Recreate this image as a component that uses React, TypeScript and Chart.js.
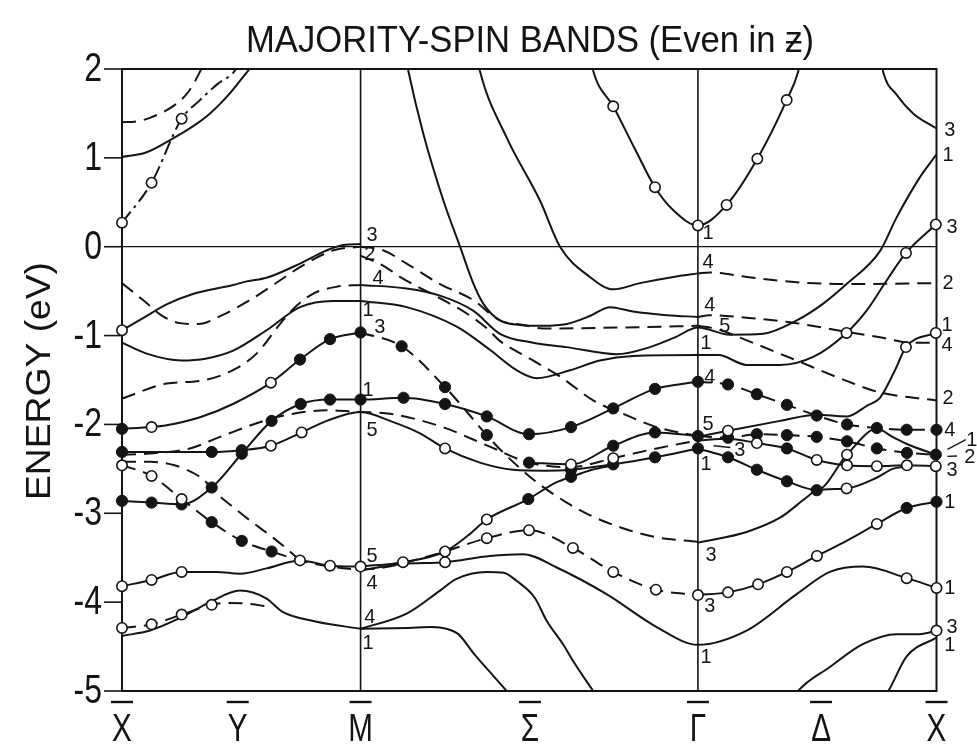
import React, { useEffect, useRef } from "react";
import { Chart, registerables } from "chart.js";
Chart.register(...registerables);

// ---------- axis data ----------
const symLabels = ["X", "Y", "M", "Σ", "Γ", "Δ", "X"];
const symK = [0, 4.85, 10, 17.1, 24.14, 29.3, 34.14];
const symLines = [10, 24.14];
const energyTicks = [2, 1, 0, -1, -2, -3, -4, -5];
const kMin = 0;
const kMax = 34.14;
const eMin = -5;
const eMax = 2;

// ---------- bands: [k, E, marker] marker 1 = open circle, 2 = filled circle ----------
// X - M segment
const S0 = [[0, 1.01], [1.0, 1.06], [2.14, 1.22], [3.0, 1.36], [3.69, 1.5], [4.5, 1.72], [5.28, 1.98], [5.5, 2.05]];
const D0 = [[0, 1.4], [0.6, 1.41], [1.17, 1.45], [2.29, 1.61], [2.8, 1.75], [3.27, 1.97], [3.4, 2.05]];
const B1 = [[0, 0.27, 1], [1.24, 0.72, 1], [2.5, 1.44, 1], [3.27, 1.65], [4.0, 1.83], [4.67, 1.96], [4.85, 2.03]];
const S1 = [[0, -0.94, 1], [0.9, -0.8], [1.87, -0.65], [3.0, -0.53], [4.66, -0.43], [5.23, -0.39], [6.06, -0.35], [7.46, -0.19], [8.5, -0.05], [9.28, 0.02], [10, 0.03]];
const D1 = [[0, -0.41], [0.88, -0.6], [1.7, -0.78], [2.43, -0.86], [3.2, -0.87], [4.2, -0.77], [5.3, -0.61], [6.4, -0.42], [7.46, -0.23], [8.86, -0.04], [10, 0.0]];
const D2 = [[0, -1.71], [1.87, -1.54], [3.27, -1.51], [4.65, -1.39], [5.65, -1.2], [6.62, -0.87], [7.18, -0.7], [8.0, -0.53], [9.0, -0.45], [10, -0.43]];
const S2 = [[0, -1.08], [1.0, -1.2], [2.5, -1.28], [3.5, -1.26], [4.66, -1.17], [6.06, -0.94], [7.46, -0.68], [8.84, -0.61], [10, -0.61]];
const S3 = [[0, -2.05, 2], [1.24, -2.03, 1], [1.87, -2.01], [3.27, -1.92], [4.65, -1.77], [6.24, -1.53, 1], [7.46, -1.27, 2], [8.72, -1.04, 2], [10, -0.965, 2]];
const F1 = [[0, -2.86, 2], [1.24, -2.88, 2], [2.5, -2.9, 2], [3.76, -2.71, 2], [5.02, -2.33, 2], [6.27, -1.96, 2], [7.49, -1.77, 2], [8.72, -1.72, 2], [10, -1.72, 2], [11.8, -1.7, 2], [13.54, -1.77, 2], [15.29, -1.91, 2], [17.06, -2.11, 2], [18.82, -2.03, 2], [20.59, -1.82, 2], [22.34, -1.6, 2], [24.14, -1.52, 2]];
const S4 = [[0, -2.31, 2], [2.0, -2.31], [3.76, -2.31, 2], [5.02, -2.29, 2], [6.24, -2.24, 1], [7.53, -2.09, 1], [8.58, -1.96], [10, -1.86], [11.23, -1.96], [12.49, -2.1], [13.54, -2.27, 1], [15.0, -2.43], [16.39, -2.51], [17.73, -2.52], [18.82, -2.51, 2], [20.59, -2.45, 2], [22.34, -2.37, 2], [24.14, -2.27, 2]];
const D3 = [[0, -2.34], [1.0, -2.33], [2.85, -2.27], [4.11, -2.14], [6.06, -1.95], [7.18, -1.88], [8.58, -1.84], [10, -1.86], [11.23, -1.88], [13.33, -2.02], [15.42, -2.25], [17.06, -2.43], [18.82, -2.48], [20.59, -2.38, 1], [22.41, -2.27], [24.14, -2.18]];
const DOpen = [[0, -2.46, 1], [1.24, -2.58, 1], [2.5, -2.84, 1], [3.76, -3.1, 2], [5.02, -3.31, 2], [6.27, -3.43, 2], [7.46, -3.53], [8.72, -3.6], [10, -3.64]];
const D4 = [[0, -2.42], [1.2, -2.42], [2.2, -2.46], [2.71, -2.51], [3.41, -2.62], [3.97, -2.78], [4.66, -2.93], [5.36, -3.08], [6.06, -3.22], [6.73, -3.36], [7.46, -3.53]];
const S5 = [[0, -3.82, 1], [1.24, -3.75, 1], [2.5, -3.66, 1], [3.97, -3.66], [4.95, -3.68], [6.06, -3.62], [7.46, -3.53, 1], [8.72, -3.59, 1], [10, -3.6, 1]];
const S7 = [[0, -4.38], [1.17, -4.32], [2.5, -4.17], [3.69, -4.0], [4.95, -3.87], [6.06, -3.96], [6.73, -4.11], [8.16, -4.22], [10, -4.3]];
const D5 = [[0, -4.29, 1], [1.24, -4.25, 1], [2.5, -4.14, 1], [3.76, -4.03, 1], [4.39, -4.01], [5.36, -4.02], [6.3, -4.06]];
// M - Gamma segment
const R1 = [[10, -3.6], [11.78, -3.55, 1], [13.54, -3.43], [14.5, -3.25], [15.29, -3.07, 1], [17.03, -2.84, 2], [18.22, -2.65], [18.82, -2.59, 2], [19.7, -2.51], [20.59, -2.46]];
const DMOpen = [[10, -3.64], [11.2, -3.6], [12.5, -3.51], [13.54, -3.43, 1], [15.29, -3.28, 1], [17.06, -3.19, 1], [18.9, -3.39, 1], [20.59, -3.66, 1], [22.38, -3.86, 1], [24.14, -3.92, 1]];
const S6 = [[10, -3.64], [11.78, -3.57], [13.54, -3.55, 1], [15.42, -3.48], [16.82, -3.46], [18.22, -3.61], [20.31, -3.91], [22.41, -4.28], [24.14, -4.48], [26.18, -4.32], [28.28, -3.91], [29.67, -3.66], [31.07, -3.6], [32.89, -3.73, 1], [34.14, -3.84, 1]];
const S8 = [[10, -4.3], [12, -4.29], [13.0, -4.28], [13.6, -4.3], [14.1, -4.36], [14.72, -4.57], [15.4, -4.78], [16.12, -5.0], [16.3, -5.06]];
const S9 = [[10, -4.3], [11.93, -4.13], [13.33, -3.87], [14.0, -3.74], [15.29, -3.66], [16.0, -3.67], [16.54, -3.76], [17.3, -3.95], [17.8, -4.21], [18.5, -4.48], [18.9, -4.66], [19.75, -5.0], [19.9, -5.06]];
const T1 = [[11.95, 2.05], [12.0, 1.98], [12.63, 1.27], [13.47, 0.52], [14.17, 0.0], [14.72, -0.41], [15.14, -0.64], [15.84, -0.83], [16.68, -0.88], [17.64, -0.89], [18.64, -0.87], [19.61, -0.78], [20.45, -0.68], [21.42, -0.73], [22.83, -0.77], [24.14, -0.79]];
const U = [[14.95, 2.05], [15.0, 1.98], [16.12, 1.23], [17.52, 0.52], [18.36, 0.0], [19.61, -0.34], [20.59, -0.48], [21.71, -0.41], [23.11, -0.34], [24.14, -0.3]];
const P = [[19.7, 2.05], [19.75, 1.98], [20.59, 1.58, 1], [21.5, 1.1], [22.34, 0.67, 1], [23.11, 0.41], [24.14, 0.24, 1], [25.34, 0.47, 1], [26.63, 0.99, 1], [27.86, 1.65, 1], [28.34, 1.97], [28.4, 2.05]];
const A = [[10, 0.0], [10.94, -0.04], [11.93, -0.19], [13.33, -0.42], [14.72, -0.6], [15.84, -0.83], [16.82, -0.88], [17.64, -0.92], [20.87, -0.91], [24.14, -0.89]];
const T5 = [[10, -0.1], [11.0, -0.22], [11.65, -0.34], [13.33, -0.58], [14.5, -0.76], [15.3, -0.92], [15.84, -1.06], [16.96, -1.24], [18.36, -1.46], [19.75, -1.73], [21.0, -1.88], [22.41, -2.03], [24.14, -2.13]];
const T3 = [[10, -0.43], [11.93, -0.47], [13.33, -0.55], [14.72, -0.72], [15.84, -0.98], [17.23, -1.08], [18.64, -1.13], [20.73, -1.21], [22.13, -1.13], [23.18, -1.02], [24.14, -0.91], [25.48, -0.99], [26.87, -0.98], [28.28, -0.83], [29.39, -0.64], [30.37, -0.42], [31.77, -0.05], [32.47, 0.33], [33.44, 0.78], [34.14, 1.04]];
const T4 = [[10, -0.61], [11.93, -0.68], [14.03, -0.9], [15.42, -1.16], [16.54, -1.39], [17.38, -1.48], [18.78, -1.39], [20.03, -1.28], [21.42, -1.23], [24.14, -1.22], [25.0, -1.22], [26.18, -1.33], [27.58, -1.33], [28.97, -1.24], [30.37, -0.97, 1], [31.21, -0.72], [32.05, -0.38], [32.86, -0.07, 1], [34.11, 0.25, 1]];
const DM3 = [[10, -0.965], [11.72, -1.12, 2], [13.54, -1.58, 2], [15.29, -2.12, 2], [15.84, -2.28], [17.24, -2.62], [18.64, -2.88], [19.6, -3.02], [20.9, -3.16], [22.4, -3.27], [24.14, -3.32]];
const C2 = [[17.06, -2.43, 2], [18.82, -2.45, 1], [20.59, -2.24, 2], [22.34, -2.09, 2], [24.14, -2.13, 2]];
// Gamma - X segment
const T1b = [[24.14, -0.79], [24.64, -0.77], [26.18, -0.8], [28.0, -0.85], [30.09, -0.945], [31.77, -1.02], [33.16, -1.08], [34.14, -1.08]];
const Ub = [[24.14, -0.3], [24.64, -0.29], [26.18, -0.34], [28.28, -0.4], [30.37, -0.42], [34.14, -0.41]];
const T2b = [[24.14, -0.89], [25.0, -0.93], [25.78, -1.01], [28.0, -1.25], [30.37, -1.51], [31.77, -1.64], [34.14, -1.73]];
const V = [[31.85, 2.05], [31.91, 1.96], [32.47, 1.71], [33.16, 1.5], [34.14, 1.33]];
const F1b = [[24.14, -1.52], [25.4, -1.55, 2], [26.61, -1.66, 2], [27.87, -1.78, 2], [29.12, -1.9, 2], [30.39, -2.0, 2], [31.64, -2.04, 2], [32.89, -2.06, 2], [34.14, -2.06, 2]];
const Bg = [[24.14, -2.14], [25.4, -2.07, 1], [27.58, -1.96], [29.12, -1.89], [30.39, -1.91], [31.22, -1.79], [31.77, -1.7], [32.4, -1.39], [32.86, -1.13, 1], [34.11, -0.97, 1]];
const Cg = [[24.14, -2.13], [25.4, -2.15, 2], [26.61, -2.11, 2], [27.87, -2.12, 2], [29.12, -2.14, 2], [30.39, -2.19, 2], [31.64, -2.27, 2], [32.9, -2.32, 2], [34.11, -2.34, 2]];
const Dg = [[24.14, -2.27], [25.4, -2.37, 2], [26.61, -2.51, 2], [27.87, -2.64, 2], [29.12, -2.74, 2], [30.39, -2.34, 1], [31.64, -2.05], [32.3, -2.14], [32.9, -2.22], [34.11, -2.34]];
const Eg = [[24.14, -2.18], [25.4, -2.16], [26.61, -2.21, 1], [27.87, -2.27, 2], [29.12, -2.4, 1], [30.39, -2.46, 1], [31.64, -2.47, 1], [32.9, -2.46, 1], [34.11, -2.47, 1]];
const Gg = [[24.14, -3.33], [26.18, -3.21], [27.58, -3.05], [28.7, -2.82], [29.12, -2.74], [30.37, -2.72, 1], [31.63, -2.6], [32.3, -2.5], [32.9, -2.47]];
const H = [[24.14, -3.92], [25.4, -3.89, 1], [26.66, -3.8, 1], [27.87, -3.66, 1], [29.13, -3.48, 1], [30.37, -3.31], [31.64, -3.12, 1], [32.89, -2.94, 2], [34.14, -2.87, 2]];
const W1 = [[28.2, -5.06], [28.34, -5.0], [29.67, -4.73], [31.07, -4.47], [32.47, -4.36], [33.44, -4.36], [34.14, -4.32, 1]];
const W2 = [[31.95, -5.06], [32.12, -5.0], [32.89, -4.61], [34.14, -4.4]];

const solidBands = [S0, S1, S2, S3, F1, S4, S5, S7, R1, S6, S8, S9, T1, U, P, T3, T4, C2, V, Bg, Dg, Eg, Gg, H, W1, W2];
const dashedBands = [D0, D1, D2, D3, DOpen, D4, D5, DMOpen, A, T5, DM3, T1b, Ub, T2b, F1b, Cg];
const dashDotBands = [B1];

// ---------- band symmetry labels: [text, k, E] ----------
const bandLabels = [
  ["1", 24.56, 0.15], ["4", 24.56, -0.175], ["4", 24.64, -0.66], ["5", 25.27, -0.9], ["1", 24.48, -1.085],
  ["4", 24.64, -1.47], ["5", 24.56, -2.0], ["3", 25.9, -2.29], ["1", 24.48, -2.45], ["3", 24.69, -3.47],
  ["3", 24.64, -4.05], ["1", 24.48, -4.62],
  ["3", 10.48, 0.13], ["2", 10.39, -0.085], ["4", 10.73, -0.35], ["1", 10.31, -0.71], ["3", 10.81, -0.905],
  ["1", 10.31, -1.61], ["5", 10.48, -2.06], ["5", 10.48, -3.48], ["4", 10.48, -3.79], ["4", 10.39, -4.17],
  ["1", 10.31, -4.46],
  ["3", 34.7, 1.31], ["1", 34.62, 1.03], ["3", 34.79, 0.22], ["2", 34.62, -0.41], ["1", 34.58, -0.88],
  ["4", 34.58, -1.11], ["2", 34.62, -1.7], ["4", 34.7, -2.06], ["1", 35.62, -2.18], ["2", 35.54, -2.37],
  ["3", 34.79, -2.51], ["1", 34.7, -2.87], ["1", 34.7, -3.84], ["3", 34.79, -4.28], ["1", 34.7, -4.48],
];
// small leader strokes beside labels: [k1, E1, k2, E2]
const leaderMarks = [
  [34.6, -2.28, 35.37, -2.17],
  [34.6, -2.36, 35.0, -2.355],
  [24.8, -2.24, 25.5, -2.26],
];

const titleText = "MAJORITY-SPIN BANDS (Even in ƶ)";
const yTitleText = "ENERGY (eV)";

const INK = "#141414";
const FONT = '"Liberation Sans", "DejaVu Sans", Arial, sans-serif';

function drawFitted(ctx: CanvasRenderingContext2D, text: string, x: number, y: number, font: string, width: number) {
  ctx.save();
  ctx.font = font;
  const w = ctx.measureText(text).width;
  ctx.translate(x, y);
  ctx.scale(width / w, 1);
  ctx.textAlign = "center";
  ctx.textBaseline = "alphabetic";
  ctx.fillText(text, 0, 0);
  ctx.restore();
}

function drawScaledX(ctx: CanvasRenderingContext2D, text: string, x: number, y: number, font: string, sx: number, align: CanvasTextAlign, base: CanvasTextBaseline) {
  ctx.save();
  ctx.font = font;
  ctx.translate(x, y);
  ctx.scale(sx, 1);
  ctx.textAlign = align;
  ctx.textBaseline = base;
  ctx.fillText(text, 0, 0);
  ctx.restore();
}

const decorPlugin = {
  id: "decor",
  beforeDatasetsDraw(chart: any) {
    const { ctx, chartArea: a, scales } = chart;
    const xs = scales.x;
    const ys = scales.y;
    ctx.save();
    ctx.strokeStyle = INK;
    ctx.lineWidth = 1.3;
    const y0 = ys.getPixelForValue(0);
    ctx.beginPath();
    ctx.moveTo(a.left, y0);
    ctx.lineTo(a.right, y0);
    ctx.stroke();
    ctx.lineWidth = 1.6;
    for (const k of symLines) {
      const x = xs.getPixelForValue(k);
      ctx.beginPath();
      ctx.moveTo(x, a.top);
      ctx.lineTo(x, a.bottom);
      ctx.stroke();
    }
    // frame
    ctx.lineWidth = 2;
    ctx.strokeRect(a.left, a.top, a.right - a.left, a.bottom - a.top);
    // y ticks
    ctx.lineWidth = 1.6;
    for (const v of energyTicks) {
      const y = ys.getPixelForValue(v);
      ctx.beginPath();
      ctx.moveTo(a.left - 18, y);
      ctx.lineTo(a.left, y);
      ctx.stroke();
    }
    ctx.restore();
  },
  afterDatasetsDraw(chart: any) {
    const { ctx, chartArea: a, scales } = chart;
    const xs = scales.x;
    const ys = scales.y;
    ctx.save();
    ctx.fillStyle = INK;
    ctx.strokeStyle = INK;
    // y tick labels
    for (const v of energyTicks) {
      const y = ys.getPixelForValue(v);
      drawScaledX(ctx, String(v), a.left - 20, y + 1, `40px ${FONT}`, 0.8, "right", "middle");
    }
    // x symmetry labels with overbars
    symLabels.forEach((t, i) => {
      const x = xs.getPixelForValue(symK[i]);
      drawScaledX(ctx, t, x, a.bottom + 50, `39px ${FONT}`, 0.76, "center", "alphabetic");
      ctx.lineWidth = 2.4;
      ctx.beginPath();
      ctx.moveTo(x - 11, a.bottom + 11);
      ctx.lineTo(x + 11, a.bottom + 11);
      ctx.stroke();
    });
    // band labels
    for (const [t, k, e] of bandLabels as any[]) {
      drawScaledX(ctx, t, xs.getPixelForValue(k), ys.getPixelForValue(e), `21px ${FONT}`, 0.95, "center", "middle");
    }
    ctx.lineWidth = 1.4;
    for (const [k1, e1, k2, e2] of leaderMarks) {
      ctx.beginPath();
      ctx.moveTo(xs.getPixelForValue(k1), ys.getPixelForValue(e1));
      ctx.lineTo(xs.getPixelForValue(k2), ys.getPixelForValue(e2));
      ctx.stroke();
    }
    // title
    drawFitted(ctx, titleText, 530, 52, `37px ${FONT}`, 568);
    // y axis title
    ctx.save();
    ctx.translate(50, 381);
    ctx.rotate(-Math.PI / 2);
    drawFitted(ctx, yTitleText, 0, 0, `35px ${FONT}`, 238);
    ctx.restore();
    ctx.restore();
  },
};

function toXY(b: number[][]) {
  return b.map((p) => ({ x: p[0], y: p[1] }));
}

export default function App() {
  const ref = useRef<HTMLCanvasElement | null>(null);
  useEffect(() => {
    if (!ref.current) return;
    const lineSet = (b: number[][], dash: number[]) => ({
      type: "line" as const,
      data: toXY(b),
      borderColor: INK,
      borderWidth: 2,
      borderDash: dash,
      pointRadius: 0,
      fill: false,
      cubicInterpolationMode: "monotone" as const,
      order: 2,
    });
    const all = [...solidBands, ...dashedBands, ...dashDotBands];
    const openPts = all.flatMap((b) => b.filter((p) => p[2] === 1)).map((p) => ({ x: p[0], y: p[1] }));
    const filledPts = all.flatMap((b) => b.filter((p) => p[2] === 2)).map((p) => ({ x: p[0], y: p[1] }));
    const datasets: any[] = [
      ...solidBands.map((b) => lineSet(b, [])),
      ...dashedBands.map((b) => lineSet(b, [14, 8])),
      ...dashDotBands.map((b) => lineSet(b, [14, 5, 3, 5])),
      {
        type: "scatter",
        data: openPts,
        showLine: false,
        pointRadius: 5.2,
        pointBackgroundColor: "#ffffff",
        pointBorderColor: INK,
        pointBorderWidth: 1.6,
        order: 0,
        clip: false,
      },
      {
        type: "scatter",
        data: filledPts,
        showLine: false,
        pointRadius: 5.6,
        pointBackgroundColor: INK,
        pointBorderColor: INK,
        pointBorderWidth: 1,
        order: 0,
        clip: false,
      },
    ];
    const chart = new Chart(ref.current, {
      type: "line",
      data: { datasets },
      options: {
        animation: false,
        responsive: false,
        devicePixelRatio: 1,
        events: [],
        layout: { padding: { left: 122, right: 40.5, top: 69, bottom: 56 } },
        plugins: { legend: { display: false }, tooltip: { enabled: false }, title: { display: false } },
        scales: {
          x: { type: "linear", min: kMin, max: kMax, display: false },
          y: { type: "linear", min: eMin, max: eMax, display: false },
        },
      },
      plugins: [decorPlugin],
    });
    return () => chart.destroy();
  }, []);
  return (
    <div style={{ position: "absolute", left: 0, top: 0, width: 977, height: 747, background: "#fff" }}>
      <canvas ref={ref} width={977} height={747} style={{ width: 977, height: 747 }} />
    </div>
  );
}
